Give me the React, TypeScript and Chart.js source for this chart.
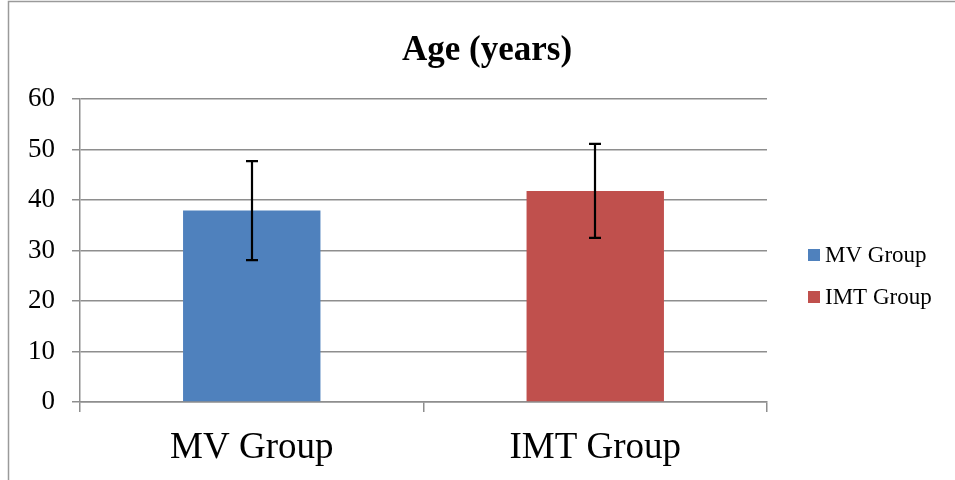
import React, { useEffect, useRef } from "react";
import { Chart, registerables } from "chart.js";

Chart.register(...registerables);

const categories = ["MV Group", "IMT Group"];
const means = [37.9, 41.8];
const sds = [9.8, 9.3];
const colors = ["#4F81BD", "#C0504D"];
const yTicks = [0, 10, 20, 30, 40, 50, 60];
const titleText = "Age (years)";

const SERIF = "'Times New Roman', 'Liberation Serif', serif";
const GRID = "#8e8e8e";

const decorPlugin = {
  id: "decor",
  afterDatasetsDraw(chart: any) {
    const ctx = chart.ctx;
    const x = chart.scales.x;
    const y = chart.scales.y;
    ctx.save();
    ctx.strokeStyle = "#000";
    ctx.lineWidth = 2.2;
    means.forEach((m, i) => {
      const cx = Math.round(x.getPixelForValue(i));
      const top = y.getPixelForValue(m + sds[i]);
      const bot = y.getPixelForValue(m - sds[i]);
      ctx.beginPath();
      ctx.moveTo(cx, top);
      ctx.lineTo(cx, bot);
      ctx.moveTo(cx - 6, top);
      ctx.lineTo(cx + 6, top);
      ctx.moveTo(cx - 6, bot);
      ctx.lineTo(cx + 6, bot);
      ctx.stroke();
    });
    ctx.restore();
  },
  afterDraw(chart: any) {
    const ctx = chart.ctx;
    ctx.save();
    // outer frame
    ctx.strokeStyle = "#9a9a9a";
    ctx.lineWidth = 1.5;
    ctx.beginPath();
    ctx.moveTo(8.5, 480);
    ctx.lineTo(8.5, 1.5);
    ctx.lineTo(955, 1.5);
    ctx.stroke();
    // title
    ctx.fillStyle = "#000";
    ctx.font = `bold 35px ${SERIF}`;
    ctx.textAlign = "center";
    ctx.textBaseline = "alphabetic";
    ctx.fillText(titleText, 487, 60);
    // legend
    ctx.font = `23px ${SERIF}`;
    ctx.textAlign = "left";
    categories.forEach((c, i) => {
      const ty = 249 + i * 42;
      ctx.fillStyle = colors[i];
      ctx.fillRect(808, ty, 12, 12);
      ctx.fillStyle = "#000";
      ctx.fillText(c, 825, ty + 13);
    });
    ctx.restore();
  },
};

export default function App() {
  const ref = useRef<HTMLCanvasElement>(null);
  useEffect(() => {
    if (!ref.current) return;
    const chart = new Chart(ref.current, {
      type: "bar",
      data: {
        labels: categories,
        datasets: [
          {
            label: titleText,
            data: means,
            backgroundColor: colors,
            categoryPercentage: 1,
            barPercentage: 0.4,
          },
        ],
      },
      options: {
        responsive: false,
        animation: false,
        devicePixelRatio: 1,
        layout: { padding: { left: 0, top: 99, right: 188, bottom: 0 } },
        plugins: {
          legend: { display: false },
          title: { display: false },
          tooltip: { enabled: false },
        },
        scales: {
          x: {
            grid: {
              offset: true,
              drawOnChartArea: false,
              drawTicks: true,
              tickLength: 10,
              color: GRID,
              lineWidth: 1.5,
            },
            border: { display: true, color: GRID, width: 1.5 },
            ticks: {
              font: { family: SERIF, size: 37 },
              color: "#000",
              padding: 14,
            },
            afterFit(scale: any) {
              scale.height = 78;
            },
          },
          y: {
            min: 0,
            max: 60,
            afterBuildTicks(scale: any) {
              scale.ticks = yTicks.map((v) => ({ value: v }));
            },
            grid: {
              color: GRID,
              lineWidth: 1.5,
              tickLength: 8,
            },
            border: { display: true, color: GRID, width: 1.5 },
            ticks: {
              font: { family: SERIF, size: 27 },
              color: "#000",
              padding: 17,
            },
            afterFit(scale: any) {
              scale.width = 80;
            },
          },
        },
      },
      plugins: [decorPlugin],
    });
    return () => chart.destroy();
  }, []);
  return (
    <div style={{ position: "absolute", left: 0, top: 0, width: 955, height: 480, background: "#fff" }}>
      <canvas ref={ref} width={955} height={480} style={{ display: "block" }} />
    </div>
  );
}
